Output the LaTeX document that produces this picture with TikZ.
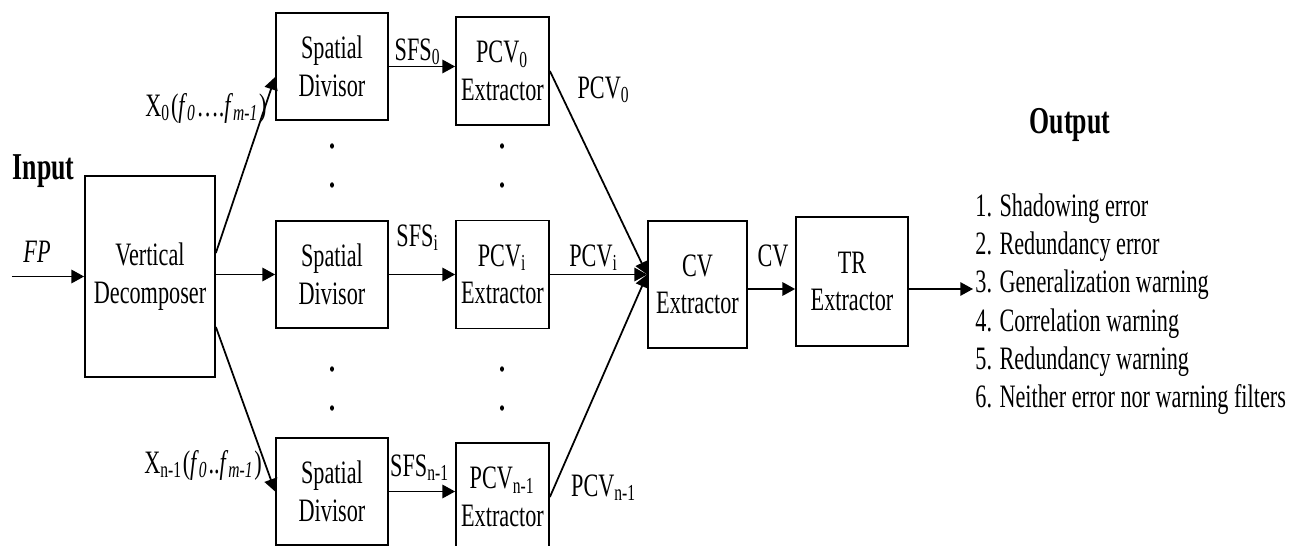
\documentclass[tikz,border=0pt]{standalone}
\usepackage{fontspec}
\setmainfont{Liberation Serif}[FakeStretch=0.68]
\usetikzlibrary{arrows.meta, positioning, calc, shapes.geometric}

\begin{document}
\begin{tikzpicture}[
  blk/.style={draw, line width=0.5pt, inner sep=1pt, align=center, font=\fontsize{9.3}{10.7}\selectfont},
  sdbox/.style={blk, minimum width=1.12cm, minimum height=1.07cm},
  pcvbox/.style={blk, minimum width=0.93cm, minimum height=1.08cm},
  arr/.style={-{Triangle[length=3.6pt, width=3.8pt]}, line width=0.5pt},
  lbl/.style={inner sep=0.5pt, font=\fontsize{9.3}{10.7}\selectfont},
  ttl/.style={inner sep=0pt, font=\fontsize{10.8}{12}\selectfont\bfseries},
  vdot/.style={ellipse, fill, inner sep=0pt, minimum width=0.04cm, minimum height=0.055cm},
]
\useasboundingbox (0,0) rectangle (13,-5.46);

% Input side
\node[ttl, anchor=base west] (input) at (0.12,-1.80) {Input};
\node[lbl, anchor=base] (fp) at (0.37,-2.63) {\textit{FP}};
\coordinate (fpin) at (0.12,-2.765);
\node[blk, minimum width=1.30cm, minimum height=2.01cm] (vd) at (1.50,-2.765) {Vertical\\Decomposer};
\draw[arr] (fpin) -- (vd.west);

% Spatial divisors
\node[sdbox] (sd0) at (3.32,-0.665) {Spatial\\Divisor};
\node[sdbox] (sdi) at (3.32,-2.745) {Spatial\\Divisor};
\node[sdbox] (sdn) at (3.32,-4.915) {Spatial\\Divisor};

\draw[arr] ([yshift=0.235cm]vd.east) -- ([yshift=-0.105cm]sd0.west);
\draw[arr] (vd.east |- sdi.west) -- (sdi.west);
\draw[arr] ([yshift=-0.505cm]vd.east) -- (sdn.west);

\node[lbl] (x0) at (2.06,-1.08) {X\textsubscript{0}(\textit{f}\textsubscript{\textit{0}}….\textit{f}\textsubscript{\textit{m-1}})};
\node[lbl] (xn) at (2.03,-4.65) {X\textsubscript{n-1}(\textit{f}\textsubscript{\textit{0}}..\textit{f}\textsubscript{\textit{m-1}})};

% PCV extractors
\node[pcvbox] (pcv0) at (5.025,-0.71) {PCV\textsubscript{0}\\Extractor};
\node[pcvbox] (pcvi) at (5.025,-2.745) {PCV\textsubscript{i}\\Extractor};
\node[pcvbox] (pcvn) at (5.025,-4.97) {PCV\textsubscript{n-1}\\Extractor};

\draw[arr] (sd0.east) -- (sd0.east -| pcv0.west);
\draw[arr] (sdi.east) -- (sdi.east -| pcvi.west);
\draw[arr] (sdn.east) -- (sdn.east -| pcvn.west);

\node[lbl] (sfs0) at (4.18,-0.52) {SFS\textsubscript{0}};
\node[lbl] (sfsi) at (4.18,-2.38) {SFS\textsubscript{i}};
\node[lbl] (sfsn) at (4.20,-4.68) {SFS\textsubscript{n-1}};

% vertical dots
\node[vdot] (dsa) at (3.32,-1.46) {};
\node[vdot] (dsb) at (3.32,-1.85) {};
\node[vdot] (dsc) at (3.32,-3.69) {};
\node[vdot] (dsd) at (3.32,-4.08) {};
\node[vdot] (dpa) at (5.02,-1.46) {};
\node[vdot] (dpb) at (5.02,-1.85) {};
\node[vdot] (dpc) at (5.02,-3.69) {};
\node[vdot] (dpd) at (5.02,-4.08) {};

% CV and TR extractors
\node[blk, minimum width=0.99cm, minimum height=1.27cm] (cv) at (6.975,-2.845) {CV\\Extractor};
\node[blk, minimum width=1.12cm, minimum height=1.29cm] (tr) at (8.52,-2.815) {TR\\Extractor};
\coordinate (cvin) at (cv.west |- pcvi.east);

\draw[arr] (pcv0.east) -- (cvin);
\draw[arr] (pcvi.east) -- (cvin);
\draw[arr] (pcvn.east) -- (cvin);

\node[lbl] (pcv0l) at (6.04,-0.90) {PCV\textsubscript{0}};
\node[lbl] (pcvil) at (5.94,-2.58) {PCV\textsubscript{i}};
\node[lbl] (pcvnl) at (6.04,-4.88) {PCV\textsubscript{n-1}};

\draw[arr] ([yshift=-0.045cm]cv.east) -- ([yshift=-0.045cm]cv.east -| tr.west);
\node[lbl] (cvl) at (7.73,-2.56) {CV};

% Output
\node[ttl] (output) at (10.70,-1.25) {Output};
\node[lbl, anchor=base west] (out1) at (9.73,-2.17) {1. Shadowing error};
\node[lbl, anchor=base west] (out2) at (9.73,-2.55) {2. Redundancy error};
\node[lbl, anchor=base west] (out3) at (9.73,-2.93) {3. Generalization warning};
\node[lbl, anchor=base west] (out4) at (9.73,-3.31) {4. Correlation warning};
\node[lbl, anchor=base west] (out5) at (9.73,-3.69) {5. Redundancy warning};
\node[lbl, anchor=base west] (out6) at (9.73,-4.07) {6. Neither error nor warning filters};

\draw[arr] ([yshift=-0.075cm]tr.east) -- ([yshift=-0.075cm]tr.east -| out3.west);

\end{tikzpicture}
\end{document}
